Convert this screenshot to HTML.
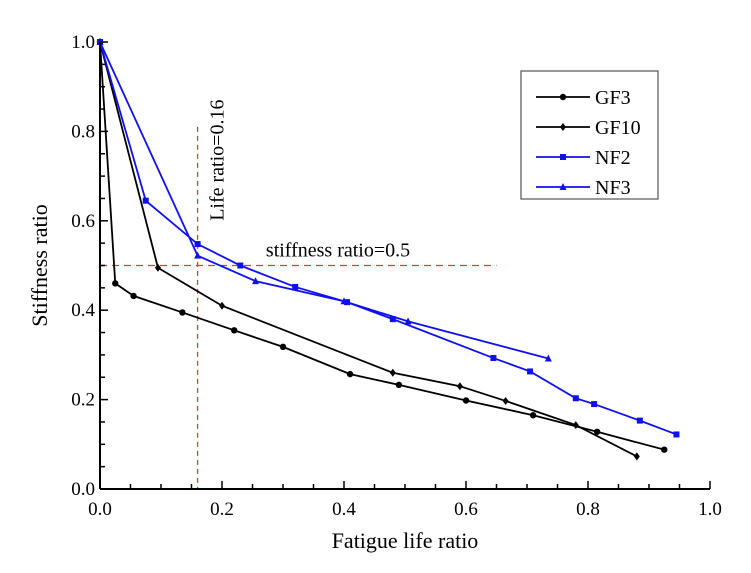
<!DOCTYPE html>
<html><head><meta charset="utf-8"><style>
body{margin:0;background:#fff}
svg text{font-family:"Liberation Serif",serif;fill:#000}
</style></head><body>
<svg width="751" height="568" xmlns="http://www.w3.org/2000/svg">
<g id="plot"></g>
</svg>
<script>
const xTicks=[0,0.2,0.4,0.6,0.8,1.0];
const yTicks=[0,0.2,0.4,0.6,0.8,1.0];
const gf3X=[0,0.025,0.055,0.135,0.22,0.30,0.41,0.49,0.60,0.71,0.815,0.925];
const gf3Y=[1,0.46,0.432,0.395,0.355,0.318,0.257,0.233,0.198,0.165,0.128,0.088];
const gf10X=[0,0.095,0.20,0.48,0.59,0.665,0.78,0.88];
const gf10Y=[1,0.495,0.41,0.26,0.23,0.197,0.143,0.073];
const nf2X=[0,0.075,0.16,0.23,0.32,0.405,0.48,0.645,0.705,0.78,0.81,0.885,0.945];
const nf2Y=[1,0.645,0.548,0.5,0.452,0.418,0.38,0.293,0.263,0.203,0.19,0.153,0.122];
const nf3X=[0,0.16,0.255,0.40,0.505,0.735];
const nf3Y=[1,0.522,0.465,0.42,0.375,0.292];
const lifeRatio=0.16, stiffRatio=0.5;
const X0=100,X1=710,Y0=489,Y1=42;
const sx=v=>X0+(X1-X0)*v, sy=v=>Y0-(Y0-Y1)*v;
const g=document.getElementById('plot');
const NS='http://www.w3.org/2000/svg';
function mk(t,a,txt){const e=document.createElementNS(NS,t);for(const k in a)e.setAttribute(k,a[k]);if(txt!==undefined)e.textContent=txt;g.appendChild(e);return e;}
let e=mk('line',{x1:sx(lifeRatio),x2:sx(lifeRatio),y1:sy(0.81),y2:sy(0),stroke:'#d04040','stroke-width':1.3,'stroke-dasharray':'5,4'});

e=mk('line',{x1:sx(0),x2:sx(0.65),y1:sy(stiffRatio),y2:sy(stiffRatio),stroke:'#d04040','stroke-width':1.3,'stroke-dasharray':'7,5'});

e=mk('text',{x:0,y:0,'font-size':20,transform:`translate(${sx(lifeRatio)+26},${sy(0.6)}) rotate(-90)`},'Life ratio=0.16');

e=mk('text',{x:sx(0.272),y:sy(0.52),'font-size':20},'stiffness ratio=0.5');

function series(xs,ys,col,marker,name){
  const p=xs.map((x,i)=>sx(x)+','+sy(ys[i])).join(' ');
  let l=mk('polyline',{points:p,fill:'none',stroke:col,'stroke-width':1.8});
  
  xs.forEach((x,i)=>{let m=drawMarker(sx(x),sy(ys[i]),col,marker);
    });
}
function drawMarker(x,y,col,t){
  if(t==='s')return mk('rect',{x:x-3,y:y-3,width:6,height:6,fill:col});
  if(t==='t')return mk('polygon',{points:`${x},${y-4} ${x-3.5},${y+3} ${x+3.5},${y+3}`,fill:col});
  if(t==='d')return mk('polygon',{points:`${x},${y-4} ${x+3},${y} ${x},${y+4} ${x-3},${y}`,fill:col});
  return mk('circle',{cx:x,cy:y,r:3.2,fill:col});
}
series(gf3X,gf3Y,'#000','c','gf3');
series(gf10X,gf10Y,'#000','d','gf10');
series(nf2X,nf2Y,'#1010ee','s','nf2');
series(nf3X,nf3Y,'#1010ee','t','nf3');
e=mk('line',{x1:X0,x2:X1,y1:Y0,y2:Y0,stroke:'#000','stroke-width':2});

e=mk('line',{x1:X0,x2:X0,y1:Y0,y2:Y1,stroke:'#000','stroke-width':2});

for(let i=0;i<=20;i++){const v=i/20,maj=i%4===0;
  mk('line',{x1:sx(v),x2:sx(v),y1:Y0,y2:Y0-(maj?8:5),stroke:'#000','stroke-width':1.5});
  mk('line',{x1:X0,x2:X0+(maj?8:5),y1:sy(v),y2:sy(v),stroke:'#000','stroke-width':1.5});}
xTicks.forEach(v=>{let t=mk('text',{x:sx(v),y:Y0+26,'font-size':19,'text-anchor':'middle'},v.toFixed(1));
  });
yTicks.forEach(v=>{let t=mk('text',{x:X0-5,y:sy(v)+6,'font-size':19,'text-anchor':'end'},v.toFixed(1));
  });
e=mk('text',{x:(X0+X1)/2,y:548,'font-size':22,'text-anchor':'middle'},'Fatigue life ratio');

e=mk('text',{x:0,y:0,'font-size':22,'text-anchor':'middle',transform:`translate(47,${(Y0+Y1)/2}) rotate(-90)`},'Stiffness ratio');

e=mk('rect',{x:521,y:71,width:137,height:128,fill:'#fff',stroke:'#555','stroke-width':1.2});

const leg=[['GF3','#000','c'],['GF10','#000','d'],['NF2','#1010ee','s'],['NF3','#1010ee','t']];
leg.forEach((d,i)=>{const y=97+i*30;
  let l=mk('line',{x1:536,x2:590,y1:y,y2:y,stroke:d[1],'stroke-width':1.8});
  
  drawMarker(563,y,d[1],d[2]);
  let t=mk('text',{x:595,y:y+7,'font-size':20},d[0]);
  });
</script>
</body></html>
